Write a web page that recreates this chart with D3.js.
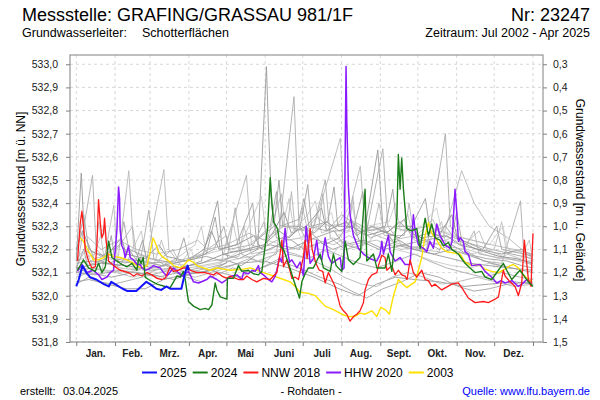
<!DOCTYPE html>
<html>
<head>
<meta charset="utf-8">
<script src="https://cdn.jsdelivr.net/npm/d3@7"></script>
<style>
    body { margin: 0; background: #fff; }
    svg text { font-family: "Liberation Sans", Arial, sans-serif; }
</style>
</head>
<body>
<svg id="mainSvg" width="600" height="400"></svg>
<script>
let svg = d3.select('#mainSvg');

// month borders (day of year) and labels
const monthStarts = [0, 31, 59, 90, 120, 151, 181, 212, 243, 273, 304, 334, 365];
const monthNames = ["Jan.", "Feb.", "Mrz.", "Apr.", "Mai", "Juni", "Juli", "Aug.", "Sept.", "Okt.", "Nov.", "Dez."];
const levelTicks = [531.8, 531.9, 532.0, 532.1, 532.2, 532.3, 532.4, 532.5, 532.6, 532.7, 532.8, 532.9, 533.0];
const depthTicks = [0.3, 0.4, 0.5, 0.6, 0.7, 0.8, 0.9, 1.0, 1.1, 1.2, 1.3, 1.4, 1.5];
const groundLevel = 533.3;

// [day of year, m ü. NN]
const year2025 = [[0,532.04],[2,532.07],[5,532.13],[8,532.1],[11,532.08],[16,532.07],[22,532.05],[26,532.04],[28,532.06],[31,532.05],[37,532.03],[41,532.02],[48,532.02],[56,532.06],[59,532.05],[64,532.03],[68,532.025],[72,532.04],[75,532.03],[84,532.03],[87,532.1],[89,532.13],[90,532.11]];

const year2024 = [[1,532.11],[5.8,532.155],[9.8,532.12],[15.2,532.105],[17.8,532.14],[20.5,532.1],[23.2,532.125],[25.8,532.235],[28.5,532.165],[32.5,532.15],[36.5,532.135],[40.5,532.125],[44.5,532.14],[48.5,532.11],[49.8,532.16],[51.9,532.14],[53.5,532.165],[55.1,532.08],[57.7,532.07],[64.5,532.05],[71.1,532.04],[75.1,532.035],[80.4,532.085],[83.1,532.08],[85.7,532.105],[87.1,532.07],[88.4,532.02],[89.7,531.975],[93.7,531.955],[99,531.94],[103,531.945],[105.7,531.94],[108.4,531.96],[111,532.055],[112.4,532.025],[115,531.995],[120.4,531.985],[120.8,532.075],[125.6,532.075],[129.6,532.13],[132.3,532.105],[137.6,532.11],[141.6,532.095],[145.6,532.09],[148.3,532.105],[151,532.215],[152.8,532.285],[155,532.51],[155.8,532.44],[157.6,532.32],[160.8,532.29],[163,532.215],[165.6,532.2],[169.6,532.14],[173.6,532.07],[176.3,532.025],[178.4,531.99],[180.3,532.06],[182.9,532.095],[185.5,532.12],[189.5,532.12],[194.9,532.18],[197.5,532.12],[202.9,532.105],[205.5,532.18],[207.7,532.13],[212.2,532.105],[214.9,532.235],[217.5,532.155],[221.5,532.135],[226.8,532.165],[230.8,532.46],[232.2,532.15],[237.5,532.18],[240.2,532.12],[246.8,532.12],[249.4,532.18],[252.2,532.105],[256.2,532.335],[257.4,532.61],[258.8,532.46],[260.1,532.595],[261.4,532.465],[264.1,532.29],[268.1,532.28],[272.1,532.29],[274.8,532.205],[278.8,532.335],[281.4,532.26],[284.1,532.31],[286.7,532.25],[290.7,532.24],[293.4,532.215],[297.4,532.23],[300.1,532.2],[305.4,532.18],[310.7,532.14],[314.7,532.12],[318.7,532.1],[324,532.105],[326.7,532.08],[332,532.07],[341.3,532.14],[344,532.11],[348,532.07],[354.6,532.11],[357.3,532.09],[361.3,532.06],[365,532.04]];

const nnw2018 = [[1,532.15],[3.2,532.315],[4.5,532.365],[5.8,532.3],[7.2,532.2],[9.8,532.15],[12.5,532.12],[15.2,532.125],[16.5,532.215],[17.8,532.415],[19.2,532.315],[20.5,532.25],[21.8,532.27],[22.6,532.335],[24,532.23],[25.8,532.15],[29.8,532.13],[35.1,532.11],[41.8,532.1],[45.8,532.085],[48.7,532.095],[52.5,532.085],[56.5,532.1],[60.5,532.09],[64.5,532.075],[68.5,532.07],[71.1,532.075],[75.1,532.125],[77.7,532.105],[81.7,532.11],[85.7,532.12],[89.7,532.12],[91.1,532.11],[96.4,532.1],[103,532.1],[109.7,532.09],[112.4,532.1],[116.4,532.085],[120.4,532.075],[123,532.085],[129.6,532.07],[133.6,532.07],[136.3,532.085],[140.3,532.07],[144.3,532.06],[149.6,532.075],[155,532.07],[160.3,532.1],[163,532.185],[164.3,532.24],[165.6,532.125],[168.3,532.155],[170.9,532.105],[172.3,532.075],[175,532.08],[177.6,532.07],[181.6,532.17],[182.9,532.24],[184.5,532.16],[186.9,532.29],[188.5,532.2],[191.5,532.14],[194.2,532.11],[197,532.105],[198.9,532.055],[201.5,532.1],[204.2,532.07],[206.9,532.04],[210.9,531.955],[213.5,531.935],[216.2,531.92],[218.8,531.89],[221.5,531.91],[224.2,531.92],[226.8,531.935],[229.5,531.97],[230.8,532.025],[233.5,532.07],[236.2,532.09],[240.2,532.1],[241.5,532.13],[244.2,532.175],[246.8,532.165],[248.2,532.11],[252.2,532.13],[254.8,532.09],[257.4,532.11],[260.1,532.09],[262.8,532.085],[264.4,532.07],[266.8,532.155],[269.4,532.1],[272.1,532.08],[276.1,532.11],[278.8,532.07],[281.4,532.065],[284.1,532.04],[286.7,532.05],[292.1,532.025],[300.1,532.05],[305.4,532.055],[308.1,532.035],[313.3,531.99],[318.7,531.97],[325.3,531.975],[329.3,531.97],[334.7,531.985],[337.4,531.995],[341.3,532.11],[342.7,532.085],[346.7,532.06],[350.7,532.04],[353.3,532.0],[356,532.055],[358.1,532.24],[360,532.14],[361.3,532.07],[363.5,532.04],[364,532.14],[365,532.27]];

const hhw2020 = [[1,532.105],[4.5,532.135],[8.5,532.1],[13.5,532.11],[17.8,532.09],[20.5,532.07],[24.5,532.08],[27.2,532.1],[29.8,532.11],[32.5,532.285],[33.8,532.47],[34.6,532.42],[35.1,532.285],[36.5,532.215],[37.8,532.2],[39.1,532.165],[41.8,532.215],[43.1,532.165],[45.8,532.155],[48.5,532.135],[51.1,532.135],[52.5,532.12],[55.1,532.11],[57.7,532.115],[60.5,532.125],[61.7,532.13],[67.1,532.12],[69.7,532.1],[72.4,532.085],[77.7,532.12],[84.4,532.085],[89.7,532.105],[93.7,532.06],[97.7,532.055],[104.4,532.07],[107,532.085],[112.4,532.07],[116.4,532.055],[120.4,532.07],[124.4,532.085],[128.4,532.09],[132.3,532.07],[133.6,532.1],[137.6,532.095],[140.6,532.11],[143,532.105],[145.6,532.13],[146.9,532.1],[149.6,532.09],[153.6,532.07],[156.3,532.06],[159,532.085],[160.3,532.11],[162.4,532.165],[164.3,532.145],[166.9,532.29],[168.3,532.215],[170.4,532.145],[172.3,532.155],[176.3,532.12],[178.9,532.145],[181.6,532.085],[183.7,532.3],[185.5,532.215],[186.9,532.14],[189.5,532.16],[192.2,532.24],[193.5,532.175],[196.2,532.155],[198.9,532.25],[201.5,532.17],[204.2,532.14],[208.2,532.155],[210.9,532.165],[212.2,532.11],[214,532.12],[215.6,532.99],[216.2,532.755],[217.5,532.47],[218.8,532.35],[221.5,532.26],[225.5,532.205],[229.5,532.18],[234.8,532.16],[240.2,532.15],[242.8,532.18],[244.2,532.235],[245.5,532.18],[249.5,532.26],[250.8,532.19],[254.8,532.15],[258.8,532.165],[262.8,532.135],[266.8,532.135],[269.4,532.35],[270.8,532.28],[273.4,532.22],[277.4,532.205],[280.1,532.19],[282.7,532.235],[285.4,532.205],[288.1,532.31],[290.7,532.26],[294.7,532.22],[298.7,532.205],[300.3,532.235],[302.7,532.46],[304.1,532.36],[305.4,532.235],[306.7,532.25],[309.3,532.235],[310.7,532.19],[313.3,532.18],[316,532.13],[322.7,532.135],[326.7,532.105],[332,532.08],[336,532.055],[339.5,532.065],[342.7,532.055],[348.2,532.065],[353.3,532.04],[356.2,532.05],[360,532.07],[364,532.05]];

const year2003 = [[3,532.25],[5.8,532.235],[8.5,532.205],[11.2,532.18],[13.8,532.155],[17.8,532.155],[21.8,532.165],[25.8,532.18],[29.8,532.17],[35.1,532.165],[40.5,532.155],[45.8,532.14],[49.8,532.125],[52.5,532.12],[56.5,532.13],[59.1,532.19],[61.3,532.25],[63.1,532.23],[65.7,532.19],[68.5,532.17],[72.4,532.155],[75.1,532.145],[77.7,532.13],[83.1,532.12],[85.7,532.13],[89.7,532.155],[93.7,532.145],[96.4,532.13],[101.7,532.12],[107,532.11],[112.4,532.12],[117.7,532.115],[123,532.11],[133.6,532.115],[139,532.12],[144.3,532.11],[149.6,532.1],[155,532.09],[160.3,532.08],[165.6,532.07],[170.9,532.06],[175,532.04],[178.9,532.015],[185.5,532.01],[191,532.0],[198.9,531.955],[205.5,531.94],[212.2,531.92],[217.5,531.91],[222.8,531.91],[226.8,531.925],[230.8,531.92],[236.2,531.935],[240.2,531.91],[243.4,531.95],[246.8,531.94],[250.3,531.92],[253.5,532.0],[257.4,532.07],[260.1,532.055],[264.1,532.035],[268.1,532.05],[270.8,532.06],[273.4,532.11],[276.1,532.165],[278.8,532.26],[281.4,532.315],[284.1,532.27],[288.1,532.24],[292.1,532.205],[296.1,532.19],[301.4,532.185],[306.7,532.18],[310.7,532.145],[316,532.13],[321.3,532.135],[326.7,532.115],[332,532.105],[337.4,532.1],[341.1,532.11],[346.7,532.13],[349.4,532.135],[353.3,532.12],[357.3,532.09],[361.3,532.07],[364,532.06]];

// all other years of the record (grey)
const otherYears = [
    [[0,532.15],[4,532.53],[7,532.2],[15,532.16],[25,532.14],[35,532.13],[42,532.2],[50,532.14],[60,532.12],[72,532.13],[85,532.12],[100,532.15],[113,532.41],[117,532.18],[130,532.16],[145,532.2],[152,532.99],[153.5,532.74],[156,532.4],[160,532.25],[172,532.24],[182,532.2],[195,532.23],[205,532.2],[215,532.22],[228,532.2],[241,532.63],[245,532.3],[255,532.22],[270,532.2],[285,532.18],[300,532.16],[315,532.14],[330,532.13],[345,532.12],[365,532.11]],
    [[0,532.1],[13,532.52],[16,532.2],[25,532.15],[35,532.12],[50,532.11],[58,532.37],[62,532.16],[75,532.12],[90,532.1],[105,532.12],[120,532.14],[127,532.38],[132,532.18],[145,532.15],[160,532.18],[174,532.86],[178,532.3],[186,532.22],[199,532.5],[203,532.25],[215,532.2],[230,532.22],[245,532.635],[249,532.3],[260,532.22],[280,532.2],[295,532.7],[299,532.3],[310,532.2],[325,532.15],[340,532.14],[355,532.41],[358,532.15],[365,532.13]],
    [[0,532.08],[10,532.1],[20,532.09],[30,532.39],[33,532.14],[42,532.54],[46,532.2],[55,532.12],[70,532.545],[74,532.2],[85,532.12],[100,532.1],[115,532.13],[136,532.52],[140,532.22],[150,532.2],[164,532.44],[168,532.24],[180,532.25],[190,532.3],[211,532.68],[215,532.3],[227,532.56],[231,532.28],[245,532.25],[260,532.22],[275,532.2],[290,532.19],[308,532.54],[318,532.4],[330,532.3],[345,532.25],[365,532.16]],
    [[0,532.06],[10,532.07],[25,532.05],[40,532.03],[55,532.03],[70,532.07],[85,532.09],[100,532.1],[115,532.12],[130,532.14],[150,532.15],[170,532.12],[190,532.08],[210,532.03],[225,532.0],[240,532.05],[255,532.08],[270,532.07],[290,532.06],[310,532.04],[330,532.05],[350,532.06],[365,532.05]],
    [[0,532.13],[8,532.2],[12,532.14],[22,532.3],[26,532.16],[40,532.14],[52,532.28],[56,532.15],[68,532.13],[80,532.16],[95,532.22],[100,532.3],[104,532.18],[118,532.2],[125,532.32],[130,532.2],[148,532.43],[152,532.25],[165,532.3],[170,532.42],[174,532.28],[185,532.35],[191,532.41],[196,532.27],[208,532.3],[220,532.4],[225,532.28],[238,532.3],[252,532.26],[265,532.35],[270,532.24],[285,532.22],[300,532.25],[312,532.2],[325,532.18],[338,532.16],[352,532.2],[365,532.15]],
    [[0,532.18],[6,532.35],[10,532.2],[20,532.17],[35,532.22],[38,532.32],[42,532.2],[60,532.16],[78,532.14],[95,532.16],[110,532.2],[118,532.3],[122,532.2],[140,532.22],[155,532.3],[160,532.45],[163,532.3],[178,532.33],[182,532.42],[186,532.3],[200,532.28],[212,532.35],[225,532.3],[235,532.25],[250,532.28],[262,532.33],[268,532.25],[282,532.27],[295,532.3],[302,532.25],[318,532.22],[332,532.2],[348,532.18],[365,532.16]],
    [[0,532.1],[12,532.12],[20,532.11],[32,532.1],[45,532.08],[60,532.1],[72,532.14],[80,532.1],[95,532.08],[108,532.1],[120,532.12],[138,532.16],[150,532.14],[162,532.2],[175,532.18],[190,532.15],[202,532.12],[214,532.08],[228,532.05],[240,532.04],[252,532.08],[265,532.1],[278,532.08],[292,532.05],[305,532.06],[320,532.08],[335,532.06],[350,532.04],[365,532.05]],
    [[0,532.2],[5,532.28],[12,532.19],[24,532.17],[36,532.25],[40,532.18],[55,532.16],[66,532.22],[72,532.17],[88,532.15],[102,532.2],[108,532.28],[114,532.2],[128,532.22],[142,532.26],[148,532.2],[158,532.28],[166,532.36],[172,532.27],[184,532.3],[196,532.38],[200,532.28],[216,532.32],[224,532.26],[236,532.3],[248,532.27],[258,532.32],[268,532.27],[280,532.24],[296,532.26],[306,532.22],[322,532.2],[340,532.18],[356,532.2],[365,532.17]],
    [[185,532.22],[195,532.2],[205,532.18],[215,532.24],[225,532.2],[240,532.16],[255,532.2],[270,532.18],[285,532.15],[300,532.13],[315,532.12],[330,532.14],[345,532.12],[365,532.11]],
    [[0,532.05],[10,532.08],[18,532.06],[30,532.05],[45,532.07],[60,532.09],[75,532.11],[88,532.08],[100,532.06],[112,532.09],[125,532.12],[140,532.1],[155,532.14],[170,532.18],[185,532.16],[200,532.2],[212,532.17],[226,532.14],[240,532.12],[256,532.15],[270,532.18],[282,532.15],[296,532.12],[310,532.1],[325,532.08],[340,532.1],[355,532.08],[365,532.07]],
    [[0,532.15],[15,532.18],[18,532.32],[22,532.17],[40,532.15],[62,532.13],[68,532.24],[74,532.14],[90,532.13],[108,532.15],[130,532.17],[134,532.3],[140,532.18],[156,532.2],[176,532.28],[181,532.38],[186,532.25],[206,532.22],[218,532.26],[232,532.22],[244,532.3],[252,532.24],[272,532.26],[285,532.33],[292,532.24],[310,532.22],[322,532.28],[328,532.2],[345,532.16],[360,532.14],[365,532.14]],
    [[0,532.12],[10,532.1],[28,532.08],[45,532.1],[62,532.09],[78,532.07],[94,532.1],[110,532.11],[122,532.15],[132,532.13],[145,532.18],[162,532.22],[178,532.2],[188,532.27],[198,532.22],[210,532.25],[220,532.33],[226,532.24],[242,532.2],[258,532.24],[270,532.2],[286,532.18],[300,532.2],[316,532.17],[332,532.14],[348,532.12],[365,532.1]],
    [[0,532.09],[20,532.1],[42,532.12],[65,532.1],[80,532.12],[92,532.2],[96,532.12],[115,532.14],[132,532.2],[145,532.25],[165,532.22],[176,532.3],[180,532.24],[195,532.3],[204,532.36],[208,532.26],[232,532.3],[250,532.32],[255,532.4],[259,532.28],[276,532.3],[288,532.38],[292,532.28],[310,532.25],[330,532.22],[341,532.3],[345,532.2],[365,532.18]],
    [[0,532.1],[15,532.09],[35,532.11],[50,532.1],[65,532.08],[82,532.1],[98,532.12],[115,532.1],[130,532.08],[148,532.12],[162,532.15],[178,532.12],[195,532.08],[210,532.05],[220,532.02],[232,531.99],[245,532.03],[260,532.06],[275,532.1],[290,532.08],[305,532.04],[318,532.02],[330,532.03],[345,532.05],[365,532.06]],
    [[0,532.22],[8,532.26],[20,532.2],[34,532.24],[48,532.2],[64,532.18],[82,532.2],[97,532.24],[105,532.2],[120,532.22],[138,532.27],[150,532.24],[166,532.3],[183,532.28],[192,532.34],[202,532.3],[222,532.32],[236,532.28],[250,532.3],[264,532.28],[280,532.3],[300,532.26],[316,532.24],[332,532.22],[350,532.2],[365,532.18]],
    [[0,532.14],[12,532.15],[26,532.14],[36,532.16],[52,532.15],[68,532.13],[86,532.15],[104,532.17],[116,532.15],[135,532.19],[155,532.22],[170,532.2],[186,532.24],[206,532.28],[214,532.22],[230,532.24],[246,532.2],[262,532.22],[278,532.24],[290,532.2],[300,532.22],[312,532.18],[328,532.16],[344,532.15],[356,532.13],[365,532.12]],
    [[0,532.12],[6,532.2],[9,532.13],[24,532.16],[28,532.26],[31,532.15],[47,532.14],[53,532.24],[57,532.14],[80,532.15],[86,532.25],[90,532.16],[104,532.18],[111,532.34],[115,532.2],[128,532.22],[141,532.4],[144,532.24],[158,532.3],[162,532.5],[165,532.3],[179,532.3],[185,532.48],[188,532.3],[201,532.32],[206,532.47],[209,532.3],[222,532.3],[229,532.45],[233,532.28],[247,532.3],[253,532.46],[256,532.3],[268,532.3],[279,532.42],[283,532.27],[300,532.25],[304,532.36],[308,532.24],[325,532.2],[336,532.3],[340,532.2],[358,532.18],[365,532.17]],
    [[0,532.16],[10,532.22],[14,532.16],[30,532.18],[45,532.3],[48,532.18],[65,532.15],[77,532.2],[82,532.15],[100,532.18],[120,532.26],[123,532.19],[140,532.2],[150,532.32],[153,532.22],[168,532.26],[172,532.45],[175,532.28],[194,532.3],[197,532.44],[200,532.28],[218,532.28],[221,532.43],[224,532.27],[238,532.3],[242,532.4],[246,532.26],[262,532.26],[266,532.4],[270,532.25],[290,532.22],[310,532.2],[318,532.28],[322,532.18],[342,532.16],[360,532.15],[365,532.15]],
    [[0,532.12],[20,532.14],[40,532.13],[60,532.11],[80,532.12],[100,532.14],[118,532.18],[135,532.2],[150,532.22],[162,532.28],[170,532.25],[180,532.3],[190,532.27],[200,532.32],[210,532.28],[220,532.3],[232,532.26],[245,532.28],[258,532.25],[268,532.3],[275,532.25],[290,532.26],[300,532.35],[305,532.24],[320,532.2],[338,532.17],[352,532.16],[365,532.14]],
    [[0,532.11],[10,532.12],[25,532.11],[40,532.1],[55,532.12],[72,532.11],[90,532.12],[110,532.14],[130,532.16],[150,532.18],[170,532.2],[190,532.22],[205,532.25],[220,532.22],[240,532.24],[260,532.2],[280,532.22],[292,532.32],[296,532.2],[315,532.18],[334,532.2],[340,532.32],[344,532.18],[355,532.16],[362,532.24],[365,532.15]]
];
const greyShades = ["#9a9a9a", "#acacac", "#b8b8b8", "#999999", "#c4c4c4", "#a4a4a4", "#b4b4b4", "#919191", "#c8c8c8", "#a8a8a8", "#bcbcbc", "#969696", "#cfcfcf", "#a2a2a2", "#b6b6b6", "#9e9e9e", "#a0a0a0", "#b2b2b2", "#8e8e8e", "#c0c0c0"];

const legendNames = ["2025", "2024", "NNW 2018", "HHW 2020", "2003"];
const legendColors = ["#1414ff", "#1a7d1a", "#ff1a1a", "#8a1aff", "#ffe000"];

const plotLeft = 70, plotRight = 543, plotTop = 55, plotBottom = 342;

const x = d3.scaleLinear().domain([-5, 373]).range([plotLeft, plotRight]);
const y = d3.scaleLinear().domain([531.8, 533.04]).range([plotBottom, plotTop]);
const yDepth = d3.scaleLinear().domain([groundLevel - 531.8, groundLevel - 533.04]).range([plotBottom, plotTop]);

const comma = d3.formatLocale({decimal: ",", thousands: ".", grouping: [3], currency: ["", "€"]}).format(".1f");

const line = d3.line()
    .x(d => x(d[0]))
    .y(d => y(d[1]));

/**
 * Gitter, Rahmen, Achsen
 */
const drawFrame = function () {
    svg.append("g").selectAll("line").data(levelTicks).join("line")
        .attr("x1", plotLeft).attr("x2", plotRight)
        .attr("y1", d => y(d)).attr("y2", d => y(d))
        .attr("stroke", "#d8d8d8")
        .attr("stroke-dasharray", "3,3");
    svg.append("g").selectAll("line").data(monthStarts).join("line")
        .attr("x1", d => x(d)).attr("x2", d => x(d))
        .attr("y1", plotTop).attr("y2", plotBottom)
        .attr("stroke", "#d8d8d8")
        .attr("stroke-dasharray", "3,3");

    let axL = svg.append("g")
        .attr("transform", `translate(${plotLeft},0)`)
        .call(d3.axisLeft(y).tickValues(levelTicks).tickSize(4).tickSizeOuter(0).tickPadding(8).tickFormat(comma));
    let axR = svg.append("g")
        .attr("transform", `translate(${plotRight},0)`)
        .call(d3.axisRight(yDepth).tickValues(depthTicks).tickSize(4).tickSizeOuter(0).tickPadding(6).tickFormat(comma));
    let axB = svg.append("g")
        .attr("transform", `translate(0,${plotBottom})`)
        .call(d3.axisBottom(x).tickValues(monthStarts).tickSize(4).tickSizeOuter(0).tickFormat(""));
    [axL, axR, axB].forEach(a => {
        a.select(".domain").remove();
        a.selectAll("line").attr("stroke", "#808080");
        a.selectAll("text")
            .attr("font-family", "Liberation Sans, Arial, sans-serif")
            .attr("font-size", 10.5)
            .attr("fill", "#222");
    });

    svg.append("rect")
        .attr("x", plotLeft).attr("y", plotTop)
        .attr("width", plotRight - plotLeft).attr("height", plotBottom - plotTop)
        .attr("fill", "none")
        .attr("stroke", "#808080");

    // Monatsnamen in der Monatsmitte
    svg.append("g").selectAll("text").data(monthNames).join("text")
        .text(d => d)
        .attr("x", (d, i) => x((monthStarts[i] + monthStarts[i + 1]) / 2))
        .attr("y", 357)
        .attr("text-anchor", "middle")
        .attr("font-size", 10)
        .attr("font-weight", "bold")
        .attr("fill", "#222");
};

/**
 * Ganglinien
 */
const drawLines = function () {
    svg.append("g").selectAll("path").data(otherYears).join("path")
        .attr("d", line)
        .attr("fill", "none")
        .attr("stroke", (d, i) => greyShades[i % greyShades.length])
        .attr("stroke-width", 0.9);

    const highlighted = [year2003, hhw2020, nnw2018, year2024, year2025];
    const colors = [legendColors[4], legendColors[3], legendColors[2], legendColors[1], legendColors[0]];
    const widths = [1.4, 1.5, 1.3, 1.4, 2];
    svg.append("g").selectAll("path").data(highlighted).join("path")
        .attr("d", line)
        .attr("fill", "none")
        .attr("stroke", (d, i) => colors[i])
        .attr("stroke-width", (d, i) => widths[i])
        .attr("stroke-linejoin", "round");
};

/**
 * Titel, Beschriftungen, Legende
 */
const drawTexts = function () {
    svg.append("text").text("Messstelle: GRAFING/GRASSAU 981/1F")
        .attr("x", 22).attr("y", 21).attr("font-size", 18);
    svg.append("text").text("Nr: 23247")
        .attr("x", 590).attr("y", 21).attr("font-size", 18).attr("text-anchor", "end");
    svg.append("text").text("Grundwasserleiter:")
        .attr("x", 22).attr("y", 37).attr("font-size", 12.5);
    svg.append("text").text("Schotterflächen")
        .attr("x", 142).attr("y", 37).attr("font-size", 12.5);
    svg.append("text").text("Zeitraum: Jul 2002 - Apr 2025")
        .attr("x", 590).attr("y", 37).attr("font-size", 12.5).attr("text-anchor", "end");

    svg.append("text").text("Grundwasserstand [m ü. NN]")
        .attr("transform", "translate(25,189) rotate(-90)")
        .attr("text-anchor", "middle").attr("font-size", 12);
    svg.append("text").text("Grundwasserstand [m u. Gelände]")
        .attr("transform", "translate(576,190) rotate(90)")
        .attr("text-anchor", "middle").attr("font-size", 12);

    // Legende
    let lg = svg.append("g");
    let cx = 142;
    legendNames.forEach((name, i) => {
        lg.append("line")
            .attr("x1", cx).attr("x2", cx + 15)
            .attr("y1", 372.5).attr("y2", 372.5)
            .attr("stroke", legendColors[i])
            .attr("stroke-width", 2);
        let t = lg.append("text").text(name)
            .attr("x", cx + 18).attr("y", 377)
            .attr("font-size", 12);
        cx += 18 + t.node().getComputedTextLength() + 6;
    });

    svg.append("text").text("erstellt:")
        .attr("x", 20).attr("y", 395).attr("font-size", 11);
    svg.append("text").text("03.04.2025")
        .attr("x", 63).attr("y", 395).attr("font-size", 11);
    svg.append("text").text("- Rohdaten -")
        .attr("x", 311).attr("y", 395).attr("font-size", 11).attr("text-anchor", "middle");
    svg.append("text").text("Quelle: www.lfu.bayern.de")
        .attr("x", 590).attr("y", 395).attr("font-size", 11).attr("text-anchor", "end")
        .attr("fill", "#0000ff");
};

drawFrame();
drawLines();
drawTexts();
</script>
</body>
</html>
